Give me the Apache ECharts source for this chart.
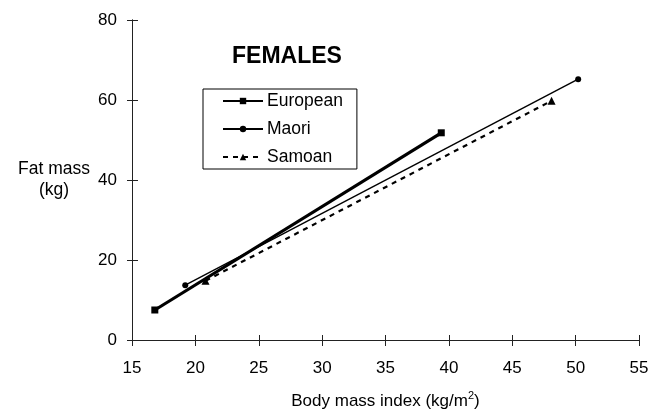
<!DOCTYPE html>
<html><head><meta charset="utf-8">
<script src="https://cdn.jsdelivr.net/npm/echarts@6/dist/echarts.min.js"></script>
<style>html,body{margin:0;padding:0;background:#fff}#c{width:664px;height:414px}</style>
</head><body><div id="c"></div>
<script>
const seriesNames = ['European', 'Maori', 'Samoan'];
const europeanBMI = [16.8, 39.4];
const europeanFat = [7.5, 51.8];
const maoriBMI = [19.2, 50.2];
const maoriFat = [13.7, 65.2];
const samoanBMI = [20.8, 48.1];
const samoanFat = [14.8, 59.8];
const xTicks = [15, 20, 25, 30, 35, 40, 45, 50, 55];
const yTicks = [0, 20, 40, 60, 80];

const pairs = (xs, ys) => xs.map((x, i) => [x, ys[i]]);
const font = 'Liberation Sans, Arial, sans-serif';
const axisCommon = {
  axisLine: {show: true, lineStyle: {color: '#222', width: 1}},
  splitLine: {show: false}
};
const xRange = {type: 'value', min: xTicks[0], max: xTicks[xTicks.length - 1], interval: 5};
const yRange = {type: 'value', min: yTicks[0], max: yTicks[yTicks.length - 1], interval: 20};
const chart = echarts.init(document.getElementById('c'));
chart.setOption({
  animation: false,
  backgroundColor: '#fff',
  textStyle: {fontFamily: font, color: '#000'},
  title: {text: 'FEMALES', left: 282, top: 40, textAlign: 'center',
    textStyle: {fontFamily: font, fontSize: 23, fontWeight: 'bold', color: '#000'}},
  grid: {left: 132, right: 25, top: 20, bottom: 74, outerBoundsMode: 'none', containLabel: false},
  legend: {
    orient: 'vertical', left: 203, top: 89, data: seriesNames,
    borderColor: '#000', borderWidth: 1, padding: [3, 14, 3, 19], itemGap: 10,
    itemWidth: 40, itemHeight: 8,
    textStyle: {fontFamily: font, fontSize: 17.5, color: '#000', padding: [0, 0, 0, -1]}
  },
  xAxis: [{
    ...xRange, position: 'bottom', ...axisCommon,
    axisTick: {show: true, length: 6, lineStyle: {color: '#222'}},
    axisLabel: {fontFamily: font, fontSize: 17, color: '#000', margin: 20},
    name: '{a|Body mass index (kg/m}{s|2}{a|)}', nameLocation: 'middle', nameGap: 50,
    nameTextStyle: {
      rich: {
        a: {fontFamily: font, fontSize: 17, color: '#000', lineHeight: 20, verticalAlign: 'bottom'},
        s: {fontFamily: font, fontSize: 11, color: '#000', lineHeight: 11, verticalAlign: 'top'}
      }
    }
  }, {
    ...xRange, position: 'bottom', ...axisCommon,
    axisTick: {show: true, inside: true, length: 5, lineStyle: {color: '#222'}},
    axisLabel: {show: false}
  }],
  yAxis: [{
    ...yRange, position: 'left', ...axisCommon,
    axisTick: {show: true, length: 5, lineStyle: {color: '#222'}},
    axisLabel: {fontFamily: font, fontSize: 17, color: '#000', margin: 15},
    name: 'Fat mass\n(kg)', nameLocation: 'middle', nameGap: 78, nameRotate: 0,
    nameTextStyle: {fontFamily: font, fontSize: 17.5, color: '#000', align: 'center',
      lineHeight: 21, padding: [0, 0, 8, 0]}
  }, {
    ...yRange, position: 'left', ...axisCommon,
    axisTick: {show: true, inside: true, length: 6, lineStyle: {color: '#222'}},
    axisLabel: {show: false}
  }],
  series: [
    {name: 'European', type: 'line', data: pairs(europeanBMI, europeanFat),
     symbol: 'rect', symbolSize: 7,
     lineStyle: {color: '#000', width: 3.2}, itemStyle: {color: '#000'}},
    {name: 'Maori', type: 'line', data: pairs(maoriBMI, maoriFat),
     symbol: 'circle', symbolSize: 6,
     lineStyle: {color: '#000', width: 1.4}, itemStyle: {color: '#000'}},
    {name: 'Samoan', type: 'line', data: pairs(samoanBMI, samoanFat),
     symbol: 'triangle', symbolSize: 8,
     lineStyle: {color: '#000', width: 2.2, type: [5, 5]}, itemStyle: {color: '#000'}},
    {name: 'tickHelper', type: 'line', xAxisIndex: 1, yAxisIndex: 1, data: [], silent: true}
  ]
});
</script></body></html>
